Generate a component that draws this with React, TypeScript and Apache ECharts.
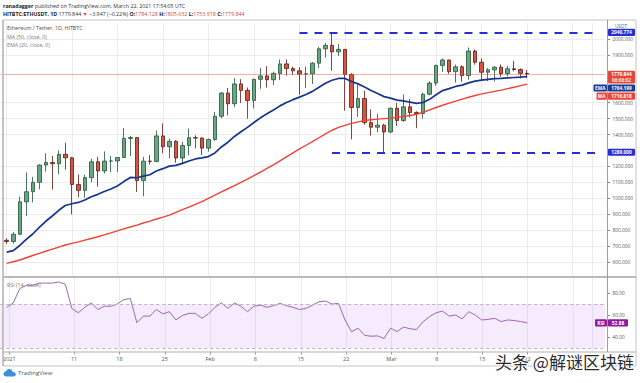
import React, { useEffect, useRef } from 'react';
import * as echarts from 'echarts';

const FONT = '"Open Sans", "Liberation Sans", sans-serif';

// daily candles, HITBTC ETH/USDT, 2021-01-01 .. 2021-03-22
const opens = [
  736.4, 728.9, 774.4, 978.3, 1041.5, 1100.2, 1208.8, 1224.9, 1216.9, 1276.0,
  1254.2, 1087.0, 1050.4, 1129.9, 1229.3, 1171.7, 1233.5, 1234.4, 1255.7, 1375.9,
  1381.3, 1111.0, 1233.3, 1231.3, 1391.6, 1323.5, 1357.7, 1253.0, 1331.2, 1380.5, 1378.1,
  1314.9, 1369.1, 1515.1, 1660.9, 1593.5, 1718.0, 1677.3, 1614.2, 1746.9, 1768.0,
  1744.1, 1783.8, 1843.4, 1814.0, 1800.0, 1779.3, 1781.0, 1848.0, 1938.0, 1959.9,
  1919.3, 1934.6, 1777.0, 1570.0, 1626.0, 1475.0, 1446.0, 1459.0,
  1416.0, 1565.0, 1488.0, 1574.0, 1538.0, 1532.0, 1653.0, 1723.0, 1834.0, 1868.0,
  1795.0, 1825.0, 1770.0, 1924.0, 1854.0, 1791.0, 1806.0, 1823.0, 1782.0, 1813.0,
  1808.0, 1784.128,
];
const closes = [
  728.9, 774.6, 978.3, 1041.4, 1099.6, 1208.4, 1224.9, 1216.9, 1276.0, 1254.2,
  1087.0, 1050.2, 1129.9, 1229.3, 1171.7, 1233.5, 1234.4, 1255.7, 1375.9, 1381.3,
  1111.0, 1233.3, 1231.4, 1391.6, 1323.5, 1357.6, 1253.2, 1331.2, 1380.5, 1378.1, 1314.9,
  1369.0, 1514.9, 1660.7, 1593.6, 1718.0, 1677.3, 1614.2, 1746.6, 1768.0, 1744.2,
  1783.8, 1843.4, 1814.0, 1800.0, 1779.3, 1781.3, 1848.0, 1938.0, 1959.9, 1919.3,
  1934.6, 1777.0, 1570.0, 1626.0, 1475.0, 1446.0, 1459.0, 1416.0,
  1565.0, 1488.0, 1574.0, 1538.0, 1532.0, 1653.0, 1723.0, 1834.0, 1868.0, 1795.0,
  1825.0, 1770.0, 1924.0, 1854.0, 1791.0, 1806.0, 1823.0, 1782.0, 1813.0, 1808.0,
  1783.791, 1779.844,
];
const highs = [
  749.0, 787.7, 1011.1, 1163.0, 1134.6, 1213.0, 1282.8, 1266.0, 1300.0, 1347.9,
  1260.0, 1150.0, 1147.3, 1247.6, 1260.0, 1294.0, 1265.7, 1256.5, 1439.9, 1391.8,
  1383.9, 1260.0, 1270.9, 1426.0, 1470.0, 1373.6, 1365.0, 1354.0, 1437.7, 1395.0, 1383.0,
  1374.7, 1541.9, 1664.4, 1693.0, 1754.4, 1748.0, 1695.0, 1750.0, 1819.0, 1830.0,
  1794.5, 1870.7, 1871.9, 1826.0, 1822.0, 1826.0, 1855.0, 1950.0, 1974.0, 2040.8,
  1968.0, 1936.0, 1785.0, 1712.0, 1676.0, 1559.0, 1531.0, 1468.0,
  1570.0, 1598.0, 1652.0, 1623.0, 1546.0, 1664.0, 1735.0, 1838.0, 1877.0, 1869.0,
  1839.0, 1835.0, 1946.0, 1933.0, 1878.0, 1817.0, 1829.0, 1840.0, 1830.0, 1862.0,
  1815.0, 1805.632,
];
const lows = [
  714.3, 714.9, 768.7, 890.0, 974.5, 1057.3, 1167.4, 1055.0, 1150.2, 1180.0,
  900.0, 1006.3, 1003.1, 1101.0, 1074.0, 1156.1, 1165.1, 1165.2, 1253.7, 1265.0,
  1040.2, 1012.3, 1211.4, 1226.0, 1282.7, 1251.4, 1223.0, 1220.0, 1270.0, 1313.8, 1271.2,
  1293.3, 1360.8, 1502.4, 1520.2, 1572.4, 1598.0, 1500.0, 1564.0, 1687.0, 1695.0,
  1710.0, 1741.7, 1770.0, 1774.4, 1650.0, 1693.0, 1717.0, 1818.0, 1882.0, 1800.0,
  1893.0, 1550.0, 1370.0, 1511.0, 1462.0, 1394.0, 1414.0, 1290.0,
  1408.0, 1455.0, 1480.0, 1508.0, 1440.0, 1500.0, 1647.0, 1706.0, 1793.0, 1781.0,
  1726.0, 1731.0, 1744.0, 1838.0, 1740.0, 1735.0, 1733.0, 1762.0, 1765.0, 1796.0,
  1752.0, 1753.918,
];
const ema20 = [
  662, 672, 704, 742, 776, 818, 856, 889, 925, 955,
  966, 974, 989, 1010, 1025, 1043, 1058, 1077, 1105, 1131,
  1129, 1139, 1148, 1171, 1186, 1202, 1207, 1219, 1234, 1247, 1254,
  1262, 1285, 1322, 1352, 1388, 1418, 1445, 1476, 1505, 1530,
  1554, 1580, 1601, 1619, 1635, 1651, 1671, 1697, 1722, 1741,
  1752, 1752, 1733, 1718, 1698, 1677, 1658, 1638,
  1629, 1616, 1611, 1603, 1596, 1601, 1621, 1650, 1676, 1688,
  1702, 1710, 1724, 1735, 1741, 1746, 1751, 1753, 1756, 1758,
  1760, 1764.199,
];
const ma50 = [
  592, 602, 613, 627, 641, 655, 668, 681, 694, 707,
  717, 727, 738, 748, 759, 771, 783, 796, 808, 820,
  832, 845, 857, 870, 882, 895, 912, 929, 945, 962, 979,
  1000, 1020, 1041, 1060, 1080, 1100, 1120, 1142, 1165, 1188,
  1210, 1235, 1260, 1285, 1310, 1333, 1356, 1380, 1404, 1427,
  1445, 1458, 1470, 1480, 1488, 1493, 1497, 1500,
  1503, 1508, 1514, 1520, 1527, 1540, 1555, 1570, 1584, 1597,
  1610, 1622, 1634, 1645, 1655, 1663, 1671, 1679, 1688, 1697,
  1707, 1716.818,
];
const rsi14 = [
  67, 71, 84, 87, 87, 89, 89, 89, 90, 88,
  66, 62, 67, 71, 65, 68, 68, 70, 74, 75,
  53, 59, 59, 65, 61, 63, 55.5, 59.5, 61.5, 61.5, 57,
  61, 67, 71, 66, 71, 68, 63, 68, 69, 67,
  68.5, 70.5, 68.5, 67, 65, 66, 69, 72, 72.7, 70,
  70.5, 55.5, 44.8, 48, 41.5, 40.7, 41, 38.6,
  48, 45, 49, 47.5, 46.8, 54, 58.5, 62, 63.6, 59,
  60, 56.4, 63, 60, 55.5, 56, 57, 54, 55.5, 55,
  54, 52.88,
];

// x axis: one empty day before the data, and empty future days after it
const firstDay = Date.UTC(2020, 11, 31);
const dayCount = 94;
const categories: string[] = [];
for (let i = 0; i < dayCount; i++) {
  categories.push(new Date(firstDay + i * 86400000).toISOString().slice(0, 10));
}
const xLabelMap: Record<string, string> = {
  '2021-01-01': '2021', '2021-01-11': '11', '2021-01-18': '18', '2021-01-25': '25',
  '2021-02-01': 'Feb', '2021-02-08': '8', '2021-02-15': '15', '2021-02-22': '22',
  '2021-03-01': 'Mar', '2021-03-08': '8', '2021-03-15': '15', '2021-03-22': '22',
};
const xGridDates = [...Object.keys(xLabelMap), '2021-03-29', '2021-04-01'];
const priceTicks = [600, 700, 800, 900, 1000, 1100, 1200, 1400, 1500, 1600, 1900, 2000];
const rsiTicks = [40, 60, 80];
const resistance = 2040.774;
const support = 1289.0;
const resistanceFrom = '2021-02-15';
const supportFrom = '2021-02-20';
const levelTo = '2021-04-02';

// layout
const GL = 0.244;
const GW = 605.0;
const GR = 640 - GL - GW;
const AXIS_X = 607.5;
const FRAME = { x: 3, y: 20, r: 636, sep: 277, tb: 352, b: 366 };

const UP = '#6ba583', UPB = '#225437', DN = '#d75442', DNB = '#5b1a13';
const BLUE = '#2a2ed2';

const pad = (a: number[]) => ['-', ...a];

function buildOption() {
  const candles = [['-', '-', '-', '-'], ...closes.map((c, i) => [opens[i], c, lows[i], highs[i]])];
  const gridInt = (_i: number, v: string) => xGridDates.includes(v);
  const labInt = (_i: number, v: string) => v in xLabelMap;
  const last = closes[closes.length - 1];
  return {
    animation: false,
    backgroundColor: '#ffffff',
    textStyle: { fontFamily: FONT },
    grid: [
      { left: GL, right: GR, top: 23, height: 255 },
      { left: GL, right: GR, top: 271, height: 88 },
      { left: GL, right: GR, top: FRAME.sep, height: FRAME.tb - FRAME.sep },
    ],
    xAxis: [
      {
        type: 'category', gridIndex: 0, data: categories, boundaryGap: false,
        axisLine: { show: false }, axisTick: { show: false }, axisLabel: { show: false },
        splitLine: { show: true, interval: gridInt, lineStyle: { color: '#ececec', width: 1 } },
      },
      { type: 'category', gridIndex: 1, data: categories, boundaryGap: false, show: false },
      {
        type: 'category', gridIndex: 2, data: categories, boundaryGap: false,
        axisLine: { show: false },
        axisTick: { show: true, interval: labInt, length: 2.5, lineStyle: { color: '#999' } },
        axisLabel: {
          interval: labInt, formatter: (v: string) => xLabelMap[v] || '',
          fontSize: 5.5, color: '#555', margin: 3.5, fontFamily: FONT,
        },
        splitLine: { show: true, interval: gridInt, lineStyle: { color: '#ececec', width: 1 } },
      },
    ],
    yAxis: [
      {
        type: 'value', gridIndex: 0, position: 'right', offset: AXIS_X - (GL + GW),
        min: 500, max: 2100, interval: 100, scale: true,
        axisLine: { show: false },
        axisTick: { show: true, length: 2.5, customValues: priceTicks, lineStyle: { color: '#888' } },
        axisLabel: {
          customValues: priceTicks,
          formatter: (v: number) => (priceTicks.includes(v) ? v.toFixed(3) : ''),
          fontSize: 4.8, color: '#555', margin: 5, fontFamily: FONT,
        },
        splitLine: { show: true, lineStyle: { color: '#ececec', width: 1 } },
      },
      {
        type: 'value', gridIndex: 1, position: 'right', offset: AXIS_X - (GL + GW),
        min: 20, max: 100, interval: 20,
        axisLine: { show: false },
        axisTick: { show: true, length: 2.5, customValues: rsiTicks, lineStyle: { color: '#888' } },
        axisLabel: {
          customValues: rsiTicks,
          formatter: (v: number) => (rsiTicks.includes(v) ? v.toFixed(2) : ''),
          fontSize: 4.8, color: '#555', margin: 5, fontFamily: FONT,
        },
        splitLine: { show: false },
      },
      { type: 'value', gridIndex: 2, min: 0, max: 1, show: false },
    ],
    series: [
      {
        type: 'candlestick', xAxisIndex: 0, yAxisIndex: 0, data: candles, barWidth: 4, z: 2,
        itemStyle: { color: UP, color0: DN, borderColor: UPB, borderColor0: DNB, borderWidth: 0.8 },
        markLine: {
          silent: true, symbol: 'none', label: { show: false }, animation: false,
          data: [
            { yAxis: last, lineStyle: { color: 'rgba(215,84,66,0.45)', width: 1, type: 'solid' } },
            [
              { coord: [resistanceFrom, resistance], lineStyle: { color: BLUE, width: 2, type: [8, 7] } },
              { coord: [levelTo, resistance] },
            ],
            [
              { coord: [supportFrom, support], lineStyle: { color: BLUE, width: 2, type: [8, 7] } },
              { coord: [levelTo, support] },
            ],
          ],
        },
      },
      {
        type: 'line', xAxisIndex: 0, yAxisIndex: 0, data: pad(ma50), symbol: 'none', z: 3,
        lineStyle: { color: '#ef4237', width: 1.4 },
      },
      {
        type: 'line', xAxisIndex: 0, yAxisIndex: 0, data: pad(ema20), symbol: 'none', z: 4,
        lineStyle: { color: '#17358c', width: 1.7 },
      },
      {
        type: 'line', xAxisIndex: 1, yAxisIndex: 1, data: pad(rsi14), symbol: 'none', z: 4,
        lineStyle: { color: '#9b68b4', width: 1 },
        markArea: {
          silent: true,
          itemStyle: { color: 'rgba(160,70,235,0.11)' },
          data: [[{ yAxis: 70 }, { yAxis: 30 }]],
        },
        markLine: {
          silent: true, symbol: 'none', label: { show: false },
          lineStyle: { color: '#b9b2bf', width: 1, type: [3, 3] },
          data: [{ yAxis: 70 }, { yAxis: 30 }],
        },
      },
    ],
  };
}

const rect = (x: number, y: number, w: number, h: number, fill: string, z = 60) => ({
  type: 'rect', z, silent: true, shape: { x, y, width: w, height: h, r: 1 }, style: { fill },
});
const txt = (x: number, y: number, text: string, fill: string, font: string, align = 'center', z = 61, extra: any = {}) => ({
  type: 'text', z, silent: true, x, y,
  style: { text, fill, font, align, verticalAlign: 'middle', ...extra },
});
const line = (x1: number, y1: number, x2: number, y2: number, stroke: string, w = 1, z = 40) => ({
  type: 'line', z, silent: true, shape: { x1, y1, x2, y2 }, style: { stroke, lineWidth: w },
});

echarts.graphic.registerShape(
  'tvCloud',
  echarts.graphic.extendPath(
    'M3 8 C1.3 8 0 6.8 0 5.3 C0 3.9 1.1 2.8 2.5 2.6 C3 1.1 4.4 0 6 0 C7.7 0 9.1 1.2 9.5 2.8 C11.4 2.8 13 4.1 13 5.6 C13 7 11.8 8 10.3 8 Z',
    {}
  ) as any
);

function buildGraphic(chart: any) {
  const py = (v: number, ax: number) => chart.convertToPixel({ yAxisIndex: ax }, v) as number;
  const n = closes.length - 1;
  const last = closes[n];
  const prev = closes[n - 1];
  const chg = last - prev;
  const pct = (chg / prev) * 100;
  const small = `5.3px ${FONT}`;
  const tagFont = `bold 4.8px ${FONT}`;
  const tx = AXIS_X + 0.5;
  const tw = 27;
  const g: any[] = [];

  // frame
  g.push({ type: 'rect', z: 45, silent: true, shape: { x: FRAME.x, y: FRAME.y, width: FRAME.r - FRAME.x, height: FRAME.b - FRAME.y }, style: { fill: 'none', stroke: '#c4c4c4', lineWidth: 1 } });
  g.push(line(FRAME.x, FRAME.y, FRAME.x, FRAME.b, '#bdbdbd', 1.6, 46));
  g.push(line(FRAME.x, FRAME.sep, FRAME.r, FRAME.sep, '#b9b9b9', 2, 46));
  g.push(line(FRAME.x, FRAME.tb, FRAME.r, FRAME.tb, '#b0b0b0', 1, 46));
  g.push(line(AXIS_X, FRAME.y, AXIS_X, FRAME.tb, '#9e9e9e', 1, 46));

  // header
  const rich = (w: string, c: string) => ({ fontSize: 5.3, fontFamily: FONT, fontWeight: w, fill: c });
  g.push({
    type: 'text', z: 70, silent: true, x: 3, y: 6,
    style: {
      text: '{b|ranadagger} {n|published on TradingView.com, March 22, 2021 17:54:05 UTC}',
      verticalAlign: 'middle', font: small,
      rich: { b: rich('bold', '#222'), n: rich('normal', '#333') },
    },
  });
  g.push({
    type: 'text', z: 70, silent: true, x: 3, y: 14,
    style: {
      text:
        `{b|HITBTC:ETHUSDT, 1D} {n|${last.toFixed(3)}} {r|▼} {n|−${Math.abs(chg).toFixed(3)} (−${Math.abs(pct).toFixed(2)}%)} ` +
        `{b|O:}{r|${opens[n].toFixed(3)}} {b|H:}{r|${highs[n].toFixed(3)}} {b|L:}{r|${lows[n].toFixed(3)}} {b|C:}{r|${last.toFixed(3)}}`,
      verticalAlign: 'middle', font: small,
      rich: { b: rich('bold', '#222'), n: rich('normal', '#333'), r: rich('normal', '#d9473a') },
    },
  });

  // legends
  g.push(txt(7, 28, 'Ethereum / Tether, 1D, HITBTC', '#4a4a4a', small, 'left', 70));
  g.push(txt(7, 37, 'MA (50, close, 0)', '#7a7a7a', small, 'left', 70));
  g.push(txt(7, 45, 'EMA (20, close, 0)', '#7a7a7a', small, 'left', 70));
  g.push(txt(7, 285, 'RSI (14, close)', '#7a7a7a', small, 'left', 70));
  g.push(txt(621, 26, 'USDT', '#666', `4.8px ${FONT}`, 'center', 70));

  // level tags
  const yR = py(resistance, 0);
  g.push(rect(tx, yR - 3.6, tw, 7.2, BLUE), txt(tx + tw / 2, yR, resistance.toFixed(3), '#fff', tagFont));
  const yS = py(support, 0);
  g.push(rect(tx, yS - 3.6, tw, 7.2, BLUE), txt(tx + tw / 2, yS, support.toFixed(3), '#fff', tagFont));

  // last price tag (two lines)
  const yP = py(last, 0);
  const pTop = yP - 3.2;
  const pBot = pTop + 12.6;
  g.push(rect(tx, pTop, tw, 12.6, '#e0493a'));
  g.push(txt(tx + tw / 2, yP + 0.2, last.toFixed(3), '#fff', tagFont));
  g.push(txt(tx + tw / 2, yP + 6.4, '06:06:02', '#ffe3df', tagFont));

  // EMA tag
  const emaV = ema20[n];
  const eTop = Math.max(py(emaV, 0) - 3.6, pBot + 1);
  g.push(rect(tx, eTop, tw, 7.2, '#1b3a8f'), txt(tx + tw / 2, eTop + 3.6, emaV.toFixed(3), '#fff', tagFont));
  g.push(rect(AXIS_X - 14, eTop, 13.5, 7.2, '#1b3a8f'), txt(AXIS_X - 7.25, eTop + 3.6, 'EMA', '#fff', tagFont));
  // MA tag
  const maV = ma50[n];
  const mTop = Math.max(py(maV, 0) - 3.6, eTop + 7.2 + 1);
  g.push(rect(tx, mTop, tw, 7.2, '#ea4538'), txt(tx + tw / 2, mTop + 3.6, maV.toFixed(3), '#fff', tagFont));
  g.push(rect(AXIS_X - 11, mTop, 10.5, 7.2, '#ea4538'), txt(AXIS_X - 5.75, mTop + 3.6, 'MA', '#fff', tagFont));

  // RSI tag
  const rV = rsi14[n];
  const yRsi = py(rV, 1);
  g.push(rect(tx, yRsi - 3.6, 20, 7.2, '#8e1a9c'), txt(tx + 10, yRsi, rV.toFixed(2), '#fff', tagFont));
  g.push(rect(AXIS_X - 12.5, yRsi - 3.6, 12, 7.2, '#8e1a9c'), txt(AXIS_X - 6.5, yRsi, 'RSI', '#fff', tagFont));

  // TradingView logo
  g.push({ type: 'tvCloud', z: 70, silent: true, x: 3.5, y: 369, scaleX: 0.95, scaleY: 0.95, style: { fill: '#3b8fe3' } });
  g.push(txt(18, 373, 'TradingView', '#555', `6px ${FONT}`, 'left', 70));

  // watermark
  g.push(txt(495, 361, '头条 @解谜区块链', '#2b2b2b', `17px "Noto Sans CJK SC"`, 'left', 90, { stroke: '#ffffff', lineWidth: 2 }));
  return g;
}

export default function App() {
  const ref = useRef<HTMLDivElement>(null);
  useEffect(() => {
    document.body.style.margin = '0';
    const chart = echarts.init(ref.current!, null, { renderer: 'svg' });
    chart.setOption(buildOption() as any);
    chart.setOption({ graphic: { elements: buildGraphic(chart) } } as any);
    return () => chart.dispose();
  }, []);
  return <div ref={ref} style={{ width: 640, height: 383 }} />;
}
